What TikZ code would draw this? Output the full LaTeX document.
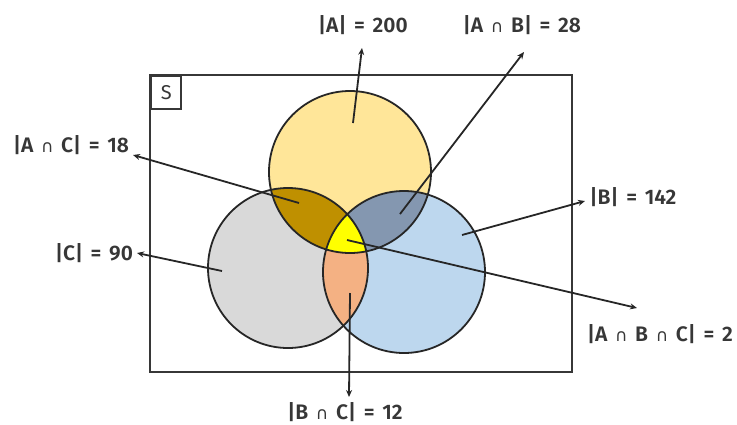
\documentclass[tikz,border=0pt]{standalone}
\usepackage{fontspec}
\setmainfont{Fira Sans}[BoldFont={Fira Sans SemiBold}, WordSpace=1.5]
\newfontfamily\symfont{DejaVu Sans}
\usetikzlibrary{arrows.meta, positioning}
\definecolor{setA}{HTML}{FFE699}
\definecolor{setB}{HTML}{BDD7EE}
\definecolor{setC}{HTML}{D9D9D9}
\definecolor{setAB}{HTML}{8497B0}
\definecolor{setAC}{HTML}{BF9000}
\definecolor{setBC}{HTML}{F4B183}
\definecolor{setABC}{HTML}{FFFF00}
\definecolor{inkgray}{RGB}{55,55,55}
\newcommand{\inter}{{\symfont\mdseries\fontsize{17}{19}\selectfont ∩}}
\tikzset{
  ring/.style={draw=black!85, line width=1.8pt},
  frame/.style={draw=inkgray, line width=2.4pt},
  lbl/.style={font=\fontsize{21}{23}\selectfont\bfseries, text=inkgray, inner sep=0pt},
  arr/.style={-{Stealth[length=7pt,width=6pt]}, line width=1.8pt, black!85}
}

\begin{document}
\begin{tikzpicture}[x=1pt, y=-1pt]
  \useasboundingbox (0,0) rectangle (737,424);

  %% centres of the sets
  \coordinate (cA) at (350,172);
  \coordinate (cB) at (404,272);
  \coordinate (cC) at (288,268);

  %% sample space
  \draw[frame] (150,75) rectangle (572,372);
  \node[frame, draw, anchor=north west, minimum width=30pt, minimum height=33pt,
        inner sep=0pt, font=\fontsize{20}{22}\selectfont, text=inkgray] (sbox) at (150,75) {S};

  %% single sets
  \fill[setA] (cA) circle[radius=81pt];
  \fill[setC] (cC) circle[radius=80pt];
  \fill[setB] (cB) circle[radius=81pt];

  %% pairwise intersections
  \begin{scope}
    \clip (cA) circle[radius=81pt];
    \fill[setAC] (cC) circle[radius=80pt];
    \fill[setAB] (cB) circle[radius=81pt];
  \end{scope}
  \begin{scope}
    \clip (cB) circle[radius=81pt];
    \fill[setBC] (cC) circle[radius=80pt];
  \end{scope}

  %% triple intersection
  \begin{scope}
    \clip (cA) circle[radius=81pt];
    \clip (cB) circle[radius=81pt];
    \fill[setABC] (cC) circle[radius=80pt];
  \end{scope}

  %% outlines
  \draw[ring] (cA) circle[radius=81pt];
  \draw[ring] (cC) circle[radius=80pt];
  \draw[ring] (cB) circle[radius=81pt];

  %% labels
  \node[lbl] (lblA)   at (363,25)  {|A| = 200};
  \node[lbl] (lblAB)  at (522,25)  {|A \inter{} B| = 28};
  \node[lbl] (lblAC)  at (71,145)  {|A \inter{} C| = 18};
  \node[lbl] (lblC)   at (94,253)  {|C| = 90};
  \node[lbl] (lblB)   at (633,197) {|B| = 142};
  \node[lbl] (lblABC) at (660,334) {|A \inter{} B \inter{} C| = 2};
  \node[lbl] (lblBC)  at (345,412) {|B \inter{} C| = 12};

  %% points inside the regions
  \coordinate (pA)   at (353,123);
  \coordinate (pAB)  at (400,214);
  \coordinate (pAC)  at (299,203);
  \coordinate (pC)   at (222,271);
  \coordinate (pB)   at (462,235);
  \coordinate (pABC) at (347,240);
  \coordinate (pBC)  at (350,293);

  %% arrow tips next to the labels
  \coordinate (tA)   at (362,48);
  \coordinate (tAB)  at (524,52);
  \coordinate (tAC)  at (133,155);
  \coordinate (tC)   at (137,253);
  \coordinate (tB)   at (585,201);
  \coordinate (tABC) at (637,308);
  \coordinate (tBC)  at (349,397);

  \foreach \r in {A, AB, AC, C, B, ABC, BC}
    \draw[arr] (p\r) -- (t\r);

\end{tikzpicture}
\end{document}
